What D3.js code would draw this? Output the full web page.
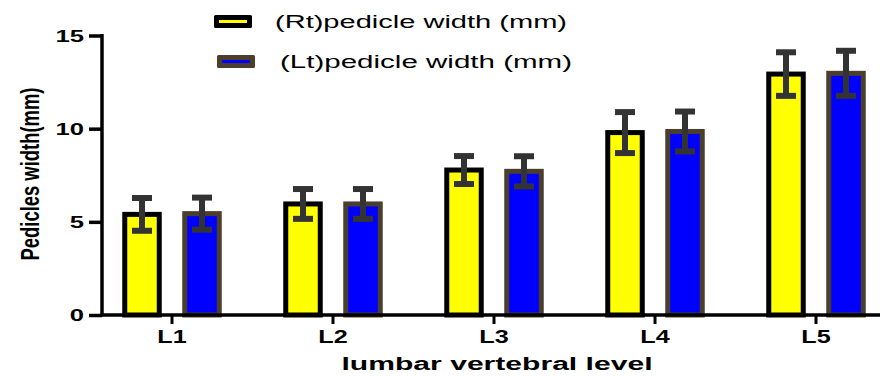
<!DOCTYPE html>
<html>
<head>
<meta charset="utf-8">
<script src="https://cdn.jsdelivr.net/npm/d3@7"></script>
<style>
  html, body { margin: 0; padding: 0; background: #fff; }
  svg { display: block; font-family: "Liberation Sans", Arial, sans-serif; }
</style>
</head>
<body>
<svg id="chart" width="880" height="376"></svg>
<script>
// Pedicle width by lumbar level: mean ± SD, right and left sides
const levels = ["L1", "L2", "L3", "L4", "L5"];
const rtMean = [5.4, 5.96, 7.78, 9.79, 12.93];
const rtSD   = [0.88, 0.80, 0.75, 1.10, 1.17];
const ltMean = [5.44, 5.96, 7.71, 9.85, 12.97];
const ltSD   = [0.86, 0.80, 0.81, 1.07, 1.21];
const yTicks = [0, 5, 10, 15];
const seriesNames = ["(Rt)pedicle width (mm)", "(Lt)pedicle width (mm)"];
const fills   = ["#ffff00", "#0000ff"];
const strokes = ["#000000", "#4b3e2c"];
const errColor = "#333333";

const svg = d3.select("#chart");

const x = d3.scaleBand().domain(levels).range([91.5, 896.5]).padding(0);
const bw = x.bandwidth();
const xs = d3.scalePoint().domain([0, 1]).range([bw / 2 - 30, bw / 2 + 30]);
const y = d3.scaleLinear().domain([0, 15]).range([315, 35.5]);

const barW = 34.5;
const capW = 20;

const rows = [];
levels.forEach((lv, i) => {
  rows.push({ lv, s: 0, mean: rtMean[i], sd: rtSD[i] });
  rows.push({ lv, s: 1, mean: ltMean[i], sd: ltSD[i] });
});

// bars
svg.append("g").selectAll("rect").data(rows).join("rect")
  .attr("x", d => x(d.lv) + xs(d.s) - barW / 2)
  .attr("y", d => y(d.mean))
  .attr("width", barW)
  .attr("height", d => y(0) - y(d.mean))
  .attr("fill", d => fills[d.s])
  .attr("stroke", d => strokes[d.s])
  .attr("stroke-width", 5);

// error bars
const eb = svg.append("g").attr("stroke", errColor).attr("stroke-width", 6);
rows.forEach(d => {
  const cx = x(d.lv) + xs(d.s);
  eb.append("line").attr("x1", cx).attr("x2", cx)
    .attr("y1", y(d.mean + d.sd)).attr("y2", y(d.mean - d.sd));
  [d.mean + d.sd, d.mean - d.sd].forEach(v => {
    eb.append("line").attr("x1", cx - capW / 2).attr("x2", cx + capW / 2)
      .attr("y1", y(v)).attr("y2", y(v));
  });
});

// axes
const yAxis = svg.append("g").attr("transform", "translate(102,0)")
  .call(d3.axisLeft(y).tickValues(yTicks).tickSize(13).tickFormat(""));
yAxis.select(".domain").attr("stroke", "#000").attr("stroke-width", 3.5)
  .attr("d", `M0,${y(0) + 1.5}V${y(15) - 1.5}`);
yAxis.selectAll(".tick line").attr("stroke", "#000").attr("stroke-width", 3.5);

const xAxis = svg.append("g").attr("transform", `translate(0,${y(0)})`)
  .call(d3.axisBottom(x).tickSize(9).tickFormat(""));
xAxis.select(".domain").attr("stroke", "#000").attr("stroke-width", 3.5)
  .attr("d", "M100.5,0H880");
xAxis.selectAll(".tick line").attr("stroke", "#000").attr("stroke-width", 3);

// y tick labels
svg.append("g").selectAll("text").data(yTicks).join("text")
  .attr("transform", d => `translate(84,${y(d) + 6}) scale(1.6,1)`)
  .attr("text-anchor", "end")
  .attr("font-size", 16).attr("font-weight", "bold")
  .text(d => d);

// x tick labels
svg.append("g").selectAll("text").data(levels).join("text")
  .attr("transform", d => `translate(${x(d) + bw / 2},${343}) scale(1.4,1)`)
  .attr("text-anchor", "middle")
  .attr("font-size", 18).attr("font-weight", "bold")
  .text(d => d);

// axis titles
svg.append("text")
  .attr("x", 497).attr("y", 370)
  .attr("text-anchor", "middle")
  .attr("font-size", 18).attr("font-weight", "bold")
  .attr("textLength", 311).attr("lengthAdjust", "spacingAndGlyphs")
  .text("lumbar vertebral level");

svg.append("text")
  .attr("transform", "translate(39,174) scale(1.45,1) rotate(-90)")
  .attr("text-anchor", "middle")
  .attr("font-size", 18).attr("font-weight", "bold")
  .attr("textLength", 173).attr("lengthAdjust", "spacingAndGlyphs")
  .text("Pedicles width(mm)");

// legend
const legend = [
  { sx: 214, sy: 15, tx: 275, ty: 28 },
  { sx: 217, sy: 55, tx: 280, ty: 68 }
];
legend.forEach((L, i) => {
  const g = svg.append("g");
  g.append("rect").attr("x", L.sx).attr("y", L.sy).attr("width", 38).attr("height", 13)
    .attr("rx", 1.5).attr("fill", strokes[i]);
  g.append("rect").attr("x", L.sx + 5).attr("y", L.sy + 5).attr("width", 28).attr("height", 3)
    .attr("fill", fills[i]);
  g.append("text").attr("x", L.tx).attr("y", L.ty)
    .attr("font-size", 18)
    .attr("textLength", 292).attr("lengthAdjust", "spacingAndGlyphs")
    .text(seriesNames[i]);
});
</script>
</body>
</html>
